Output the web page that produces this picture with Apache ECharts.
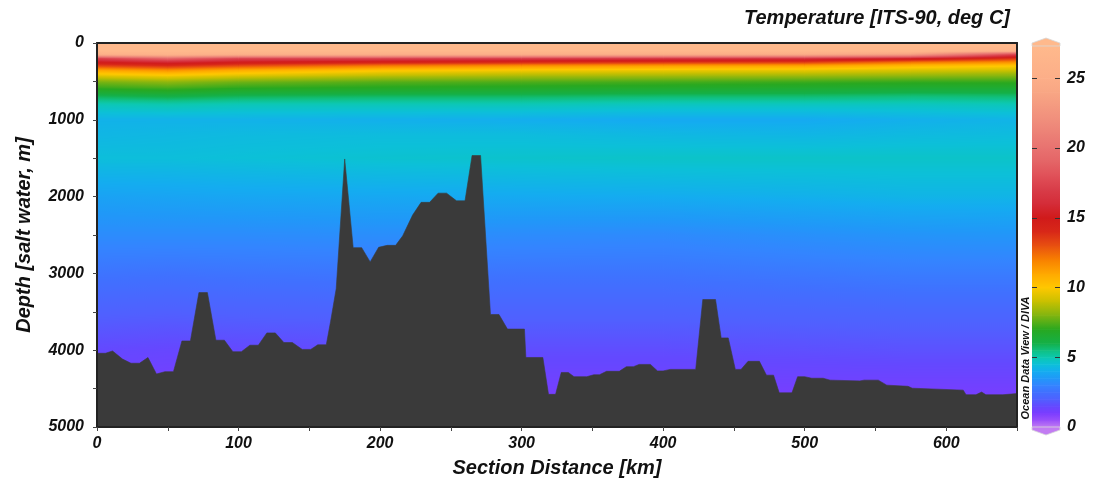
<!DOCTYPE html>
<html>
<head>
<meta charset="utf-8">
<script src="https://cdn.jsdelivr.net/npm/echarts@6/dist/echarts.min.js"></script>
<style>
html,body{margin:0;padding:0;background:#fff;}
#chart{width:1094px;height:486px;}
</style>
</head>
<body>
<div id="chart"></div>
<script>
// ---------- data ----------
const stationKm = [0, 50, 100, 200, 300, 400, 500, 575, 650];
const depthLevels = [0, 100, 150, 200, 250, 300, 350, 400, 500, 600, 700, 800, 1000, 1200, 1500, 2000, 2500, 3000, 3500, 4000, 4500, 5000];
// temperature (deg C) at each station for each depth level
const tempKm0   = [27.6, 27.2, 25.5, 17.2, 15.0, 13.2, 11.2, 10.0, 8.0, 7.0, 5.8, 4.9, 4.15, 4.25, 4.45, 3.75, 3.2, 2.6, 2.05, 1.5, 1.1, 0.8];
const tempKm50  = [27.6, 27.2, 26.0, 19.5, 15.8, 13.8, 11.8, 10.4, 8.3, 7.2, 6.0, 5.0, 4.15, 4.3, 4.45, 3.8, 3.2, 2.55, 2.0, 1.45, 1.05, 0.8];
const tempKm100 = [27.6, 27.1, 25.5, 17.5, 15.0, 13.0, 11.0, 9.9, 7.9, 6.9, 5.8, 4.9, 4.15, 4.35, 4.5, 3.85, 3.2, 2.6, 2.05, 1.5, 1.1, 0.85];
const tempKm200 = [27.6, 27.0, 25.3, 17.5, 14.4, 12.0, 10.3, 9.3, 7.6, 6.8, 5.7, 4.9, 4.1, 4.4, 4.6, 3.9, 3.25, 2.65, 2.1, 1.55, 1.1, 0.85];
const tempKm300 = [27.6, 27.0, 25.2, 17.2, 14.0, 11.5, 10.0, 9.0, 7.5, 6.7, 5.7, 4.9, 4.05, 4.4, 4.65, 3.95, 3.2, 2.6, 2.1, 1.6, 1.15, 0.9];
const tempKm400 = [27.6, 27.0, 25.0, 16.8, 13.6, 11.2, 9.8, 8.9, 7.4, 6.6, 5.6, 4.8, 3.95, 4.3, 4.7, 4.0, 3.15, 2.6, 2.1, 1.6, 1.15, 0.9];
const tempKm500 = [27.6, 27.0, 24.8, 16.6, 13.4, 11.0, 9.7, 8.8, 7.3, 6.5, 5.6, 4.8, 3.95, 4.25, 4.7, 4.1, 3.3, 2.7, 2.15, 1.65, 1.15, 0.9];
const tempKm575 = [27.6, 26.8, 23.5, 15.6, 12.2, 10.4, 9.4, 8.6, 7.2, 6.4, 5.5, 4.8, 4.1, 4.35, 4.7, 4.2, 3.4, 2.8, 2.2, 1.7, 1.15, 0.9];
const tempKm650 = [27.8, 26.0, 17.0, 13.8, 11.5, 10.0, 9.2, 8.4, 7.2, 6.4, 5.6, 4.9, 4.2, 4.4, 4.7, 4.2, 3.45, 2.8, 2.2, 1.7, 1.15, 0.9];
const temperature = [tempKm0, tempKm50, tempKm100, tempKm200, tempKm300, tempKm400, tempKm500, tempKm575, tempKm650];

// sea floor (bathymetry) profile
const bathyKm = [0,6,11,18,24,30,36,42,48,54,60,66,72,78,84,90,96,102,108,114,120,126,132,138,145,151,156,162,165,169,175,181,187,193,199,205,211,216,223,229,235,241,247,254,260,265,271,278,284,290,302,303,315,319,324,328,333,337,346,351,355,360,369,374,379,383,391,396,400,405,423,428,437,441,446,451,455,460,468,473,478,482,491,495,500,505,513,518,539,542,552,558,573,576,612,614,621,625,628,640,641,650];
const bathyDepth = [4040,4040,4010,4115,4170,4170,4095,4310,4280,4280,3880,3880,3250,3250,3870,3870,4020,4020,3935,3935,3775,3775,3900,3900,3990,3990,3930,3930,3630,3200,1510,2665,2665,2850,2660,2635,2635,2510,2240,2075,2075,1955,1955,2055,2055,1465,1465,3535,3535,3725,3725,4095,4095,4575,4575,4290,4290,4345,4345,4320,4320,4275,4275,4215,4215,4185,4185,4270,4270,4250,4250,3340,3340,3840,3840,4250,4250,4145,4145,4325,4325,4555,4555,4345,4345,4365,4365,4390,4400,4390,4390,4455,4470,4495,4520,4580,4580,4545,4580,4580,4565,4565];

// colour scale
const paletteValues = [0, 0.5, 1, 1.5, 2, 2.5, 3, 3.5, 4, 4.5, 5, 5.5, 6, 7, 8, 9, 10, 11, 12, 13, 14, 15, 16, 17, 18, 19, 20, 21, 22, 23, 24, 25, 27.3];
const paletteColors = ['#c27cf2','#9a50fa','#7a3cff','#6448ff','#5060ff','#4070ff','#3484ff','#2098f8','#14acf0','#0cc0d8','#0cc8b0','#10c080','#14b048','#28a820','#80b410','#c8c000','#ffc800','#ffa800','#f88000','#e85010','#d82818','#d01a1a','#d42c38','#d83c48','#e05058','#e46466','#e87270','#ec8076','#f08e7c','#f49a80','#f8a684','#fcae88','#ffb98c'];

// ticks / labels
const distanceLabels = [0, 100, 200, 300, 400, 500, 600];
const depthLabels = [0, 1000, 2000, 3000, 4000, 5000];
const colorbarLabels = [0, 5, 10, 15, 20, 25];
const colorbarTicks = [5, 10, 15, 20, 25];

// ---------- helpers ----------
const FONT = "'Liberation Sans', Arial, sans-serif";
const paletteRGB = paletteColors.map(h => [parseInt(h.substr(1,2),16), parseInt(h.substr(3,2),16), parseInt(h.substr(5,2),16)]);
function colorFor(t) {
  const v = paletteValues;
  if (t <= v[0]) return paletteColors[0];
  if (t >= v[v.length-1]) return paletteColors[v.length-1];
  let k = 0;
  while (k < v.length - 2 && t > v[k+1]) k++;
  const f = (t - v[k]) / (v[k+1] - v[k]);
  const a = paletteRGB[k], b = paletteRGB[k+1];
  return 'rgb(' + Math.round(a[0]+(b[0]-a[0])*f) + ',' + Math.round(a[1]+(b[1]-a[1])*f) + ',' + Math.round(a[2]+(b[2]-a[2])*f) + ')';
}

const fieldCells = [];
for (let i = 0; i < stationKm.length - 1; i++) {
  for (let j = 0; j < depthLevels.length - 1; j++) fieldCells.push([i, j]);
}

function renderCell(params, api) {
  const i = api.value(0), j = api.value(1);
  const p0 = api.coord([stationKm[i], depthLevels[j]]);
  const p1 = api.coord([stationKm[i+1], depthLevels[j+1]]);
  const x0 = p0[0], x1 = p1[0], y0 = p0[1], y1 = p1[1];
  const h = y1 - y0;
  const n = Math.max(1, Math.ceil(h));
  const tl = temperature[i][j], tr = temperature[i+1][j];
  const bl = temperature[i][j+1], br = temperature[i+1][j+1];
  const children = [];
  for (let k = 0; k < n; k++) {
    const f = (k + 0.5) / n;
    const tL = tl + (bl - tl) * f, tR = tr + (br - tr) * f;
    const stops = [];
    for (let s = 0; s <= 8; s++) {
      const g = s / 8;
      stops.push({offset: g, color: colorFor(tL + (tR - tL) * g)});
    }
    children.push({
      type: 'rect', silent: true,
      shape: {x: x0, y: y0 + h * k / n, width: x1 - x0 + 0.8, height: h / n + 0.8},
      style: {fill: new echarts.graphic.LinearGradient(0, 0, 1, 0, stops)}
    });
  }
  return {type: 'group', children: children};
}

const barBands = [];
for (let k = 0; k < paletteValues.length - 1; k++) barBands.push([k]);
function renderBand(params, api) {
  const k = api.value(0);
  const a = api.coord([0, paletteValues[k]]);
  const b = api.coord([1, paletteValues[k+1]]);
  const children = [{
    type: 'rect', silent: true,
    shape: {x: a[0], y: b[1], width: b[0] - a[0], height: a[1] - b[1] + 0.6},
    style: {fill: new echarts.graphic.LinearGradient(0, 1, 0, 0, [
      {offset: 0, color: paletteColors[k]}, {offset: 1, color: paletteColors[k+1]}])}
  }];
  const mid = (a[0] + b[0]) / 2;
  if (k === 0) {
    children.push({type: 'polygon', silent: true,
      shape: {points: [[a[0], a[1]], [b[0], a[1]], [b[0], a[1] + 3], [mid, a[1] + 8], [a[0], a[1] + 3]]},
      style: {fill: paletteColors[0], stroke: '#d8d8d8', lineWidth: 0.8}});
  }
  if (k === paletteValues.length - 2) {
    children.push({type: 'polygon', silent: true,
      shape: {points: [[a[0], b[1]], [b[0], b[1]], [b[0], b[1] - 3], [mid, b[1] - 8], [a[0], b[1] - 3]]},
      style: {fill: paletteColors[paletteColors.length-1], stroke: '#d8d8d8', lineWidth: 0.8}});
  }
  return {type: 'group', children: children};
}

function renderBarTick(params, api) {
  const v = api.value(0);
  const a = api.coord([0, v]);
  const b = api.coord([1, v]);
  const y = Math.round(a[1]) + 0.5;
  const st = {stroke: '#333', lineWidth: 1};
  return {type: 'group', children: [
    {type: 'line', silent: true, shape: {x1: a[0], y1: y, x2: a[0] + 5, y2: y}, style: st},
    {type: 'line', silent: true, shape: {x1: b[0] - 5, y1: y, x2: b[0], y2: y}, style: st}
  ]};
}

const labelStyle = {fontFamily: FONT, fontStyle: 'italic', fontWeight: 'bold', fontSize: 16, color: '#111'};
const plain = v => String(v);

const chart = echarts.init(document.getElementById('chart'), null, {renderer: 'canvas'});
chart.setOption({
  animation: false,
  backgroundColor: '#fff',
  grid: [
    {left: 97, right: 77, top: 43, bottom: 59, show: false},
    {left: 1032, top: 46, width: 28, height: 381, show: false}
  ],
  xAxis: [
    {gridIndex: 0, type: 'value', min: 0, max: 650, interval: 50, position: 'bottom', z: 10,
     axisLine: {show: true, onZero: false, lineStyle: {color: '#222', width: 2}},
     axisTick: {show: true, length: 4, lineStyle: {color: '#444', width: 1}},
     axisLabel: Object.assign({margin: 9, customValues: distanceLabels, formatter: plain}, labelStyle),
     splitLine: {show: false},
     name: 'Section Distance [km]', nameLocation: 'middle', nameGap: 31,
     nameTextStyle: {fontFamily: FONT, fontStyle: 'italic', fontWeight: 'bold', fontSize: 20, color: '#111'}},
    {gridIndex: 0, type: 'value', min: 0, max: 650, position: 'top', z: 10,
     axisLine: {show: true, onZero: false, lineStyle: {color: '#222', width: 2}},
     axisTick: {show: false}, axisLabel: {show: false}, splitLine: {show: false}},
    {gridIndex: 1, type: 'value', min: 0, max: 1, show: false}
  ],
  yAxis: [
    {gridIndex: 0, type: 'value', min: 0, max: 5000, interval: 500, inverse: true, position: 'left', z: 10,
     axisLine: {show: true, onZero: false, lineStyle: {color: '#222', width: 2}},
     axisTick: {show: true, length: 4, lineStyle: {color: '#444', width: 1}},
     axisLabel: Object.assign({margin: 13, customValues: depthLabels, formatter: plain}, labelStyle),
     splitLine: {show: false},
     name: 'Depth [salt water, m]', nameLocation: 'middle', nameGap: 63, nameRotate: 90,
     nameTextStyle: {fontFamily: FONT, fontStyle: 'italic', fontWeight: 'bold', fontSize: 20, color: '#111'}},
    {gridIndex: 0, type: 'value', min: 0, max: 5000, inverse: true, position: 'right', z: 10,
     axisLine: {show: true, onZero: false, lineStyle: {color: '#222', width: 2}},
     axisTick: {show: false}, axisLabel: {show: false}, splitLine: {show: false}},
    {gridIndex: 1, type: 'value', min: 0, max: 27.3, position: 'right', z: 10,
     axisLine: {show: false}, axisTick: {show: false},
     axisLabel: Object.assign({margin: 7, customValues: colorbarLabels, formatter: plain}, labelStyle),
     splitLine: {show: false}}
  ],
  series: [
    {type: 'custom', name: 'Temperature', xAxisIndex: 0, yAxisIndex: 0, renderItem: renderCell,
     data: fieldCells, encode: {x: [], y: []}, clip: true, silent: true, z: 1},
    {type: 'line', name: 'Bottom', xAxisIndex: 0, yAxisIndex: 0,
     data: bathyKm.map((k, i) => [k, bathyDepth[i]]),
     symbol: 'none', lineStyle: {color: '#3a3a3a', width: 0.6},
     areaStyle: {color: '#3a3a3a', opacity: 1, origin: 'end'}, silent: true, z: 3},
    {type: 'custom', name: 'Colorbar', xAxisIndex: 2, yAxisIndex: 2, renderItem: renderBand,
     data: barBands, encode: {x: [], y: []}, silent: true, z: 1},
    {type: 'custom', name: 'ColorbarTicks', xAxisIndex: 2, yAxisIndex: 2, renderItem: renderBarTick,
     data: colorbarTicks.map(v => [v]), encode: {x: [], y: []}, silent: true, z: 5}
  ],
  graphic: [
    {type: 'text', right: 84, top: 8, silent: true,
     style: {text: 'Temperature [ITS-90, deg C]', font: 'italic bold 20px ' + FONT, fill: '#111'}},
    {type: 'text', x: 1026, y: 358, rotation: Math.PI / 2, silent: true,
     style: {text: 'Ocean Data View / DIVA', font: 'italic bold 11px ' + FONT, fill: '#111', align: 'center', verticalAlign: 'middle'}}
  ]
});
</script>
</body>
</html>
